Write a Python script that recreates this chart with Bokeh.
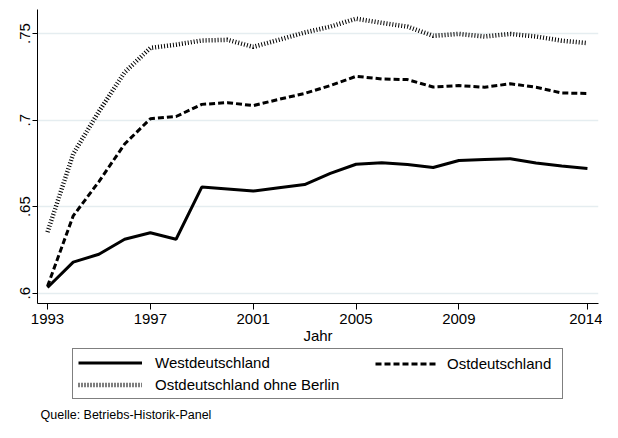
from bokeh.plotting import figure
from bokeh.layouts import column
from bokeh.models import (Legend, LegendItem, FixedTicker, CustomJSTickFormatter,
                          Label, Range1d)
from bokeh.embed import file_html
from bokeh.resources import INLINE

# ---- data ----
years = list(range(1993, 2015))
west = [0.6033, 0.6180, 0.6225, 0.6312, 0.6349, 0.6312, 0.6613, 0.6602, 0.6590,
        0.6609, 0.6628, 0.6692, 0.6745, 0.6754, 0.6743, 0.6726, 0.6767, 0.6773,
        0.6777, 0.6752, 0.6735, 0.6720]
ost = [0.6040, 0.6447, 0.6645, 0.6862, 0.7008, 0.7021, 0.7091, 0.7101, 0.7084,
       0.7120, 0.7154, 0.7200, 0.7253, 0.7238, 0.7234, 0.7191, 0.7200, 0.7190,
       0.7210, 0.7190, 0.7157, 0.7154]
ost_ohne_berlin = [0.6353, 0.6805, 0.7050, 0.7276, 0.7417, 0.7436, 0.7460, 0.7464,
                   0.7423, 0.7464, 0.7506, 0.7540, 0.7586, 0.7562, 0.7540, 0.7487,
                   0.7498, 0.7483, 0.7498, 0.7483, 0.7459, 0.7445]
x_ticks = [1993, 1997, 2001, 2005, 2009, 2014]
y_ticks = [0.6, 0.65, 0.7, 0.75]
label_west = "Westdeutschland"
label_ost = "Ostdeutschland"
label_ob = "Ostdeutschland ohne Berlin"
x_title = "Jahr"
note = "Quelle: Betriebs-Historik-Panel"

FONT = "Liberation Sans"
W = 602
H1 = 348
H2 = 74

# ---- main chart ----
p = figure(width=W, height=H1, output_backend="svg", toolbar_location=None,
           x_range=Range1d(1992.611, 2014.43), y_range=Range1d(0.59406, 0.76391),
           min_border_left=37, min_border_right=4, min_border_top=9,
           min_border_bottom=45)
p.outline_line_color = None
p.background_fill_color = "white"
p.border_fill_color = "white"

p.xgrid.visible = False
p.ygrid.ticker = FixedTicker(ticks=y_ticks)
p.ygrid.grid_line_color = "#e5edf0"
p.ygrid.grid_line_width = 1.5

p.xaxis.ticker = FixedTicker(ticks=x_ticks)
p.xaxis.axis_label = x_title
p.xaxis.axis_label_text_font_style = "normal"
p.xaxis.axis_label_text_font = FONT
p.xaxis.axis_label_text_font_size = "15px"
p.xaxis.axis_label_text_color = "black"
p.xaxis.axis_label_standoff = 0
p.xaxis.major_label_standoff = 4
p.xaxis.major_tick_out = 6
p.xaxis.major_tick_in = 0
p.xaxis.minor_tick_out = 0
p.xaxis.minor_tick_in = 0

p.yaxis.ticker = FixedTicker(ticks=y_ticks)
p.yaxis.formatter = CustomJSTickFormatter(
    code="return tick.toFixed(2).replace(/0+$/, '').replace(/^0/, '');")
p.yaxis.major_label_orientation = "vertical"
p.yaxis.major_label_standoff = 2
p.yaxis.major_tick_out = 5
p.yaxis.major_tick_in = 0
p.yaxis.minor_tick_out = 0
p.yaxis.minor_tick_in = 0

for ax in (p.xaxis, p.yaxis):
    ax.major_label_text_font = FONT
    ax.major_label_text_font_size = "15px"
    ax.major_label_text_color = "black"
    ax.axis_line_color = "black"
    ax.axis_line_width = 1
    ax.major_tick_line_color = "black"

STY_W = dict(line_width=3, color="black")
STY_O = dict(line_width=3, color="black", line_dash="6 3")
STY_B = dict(line_width=4.5, color="black", line_dash="1 2")

p.line(years, west, **STY_W)
p.line(years, ost, **STY_O)
p.line(years, ost_ohne_berlin, **STY_B)

# ---- legend + note strip (frame aligned with main chart: x 37..598) ----
q = figure(width=W, height=H2, output_backend="svg", toolbar_location=None,
           x_range=Range1d(0, 1), y_range=Range1d(0, 1),
           x_axis_type=None, y_axis_type=None,
           min_border_left=37, min_border_right=4, min_border_top=0,
           min_border_bottom=0)
q.outline_line_color = None
q.background_fill_color = "white"
q.border_fill_color = "white"

# same series, outside this strip's visible range: only used as legend keys
k_w = q.line(years, west, **STY_W)
k_o = q.line(years, ost, **STY_O)
k_b = q.line(years, ost_ohne_berlin, **STY_B)

legA = Legend(items=[LegendItem(label=label_west, renderers=[k_w]),
                     LegendItem(label=label_ob, renderers=[k_b])],
              location=(35, 23), orientation="vertical", padding=5, spacing=5,
              glyph_width=64, glyph_height=17, label_height=17, label_standoff=13,
              label_width=402, margin=0,
              border_line_color="black", border_line_width=1,
              background_fill_color="white", background_fill_alpha=1,
              label_text_font=FONT, label_text_font_size="15px",
              label_text_color="black")
legB = Legend(items=[LegendItem(label=label_ost, renderers=[k_o])],
              location=(338, 50), padding=0, margin=0,
              glyph_width=63, glyph_height=17, label_height=17, label_standoff=9,
              border_line_alpha=0, background_fill_alpha=0,
              label_text_font=FONT, label_text_font_size="15px",
              label_text_color="black")
q.add_layout(legA)
q.add_layout(legB)

q.add_layout(Label(x=3, y=8, x_units="screen", y_units="screen", text=note,
                   text_font=FONT, text_font_size="12.5px", text_baseline="alphabetic",
                   text_color="black"))

layout = column(p, q, spacing=0)
open("out.html", "w").write(file_html(layout, INLINE))
